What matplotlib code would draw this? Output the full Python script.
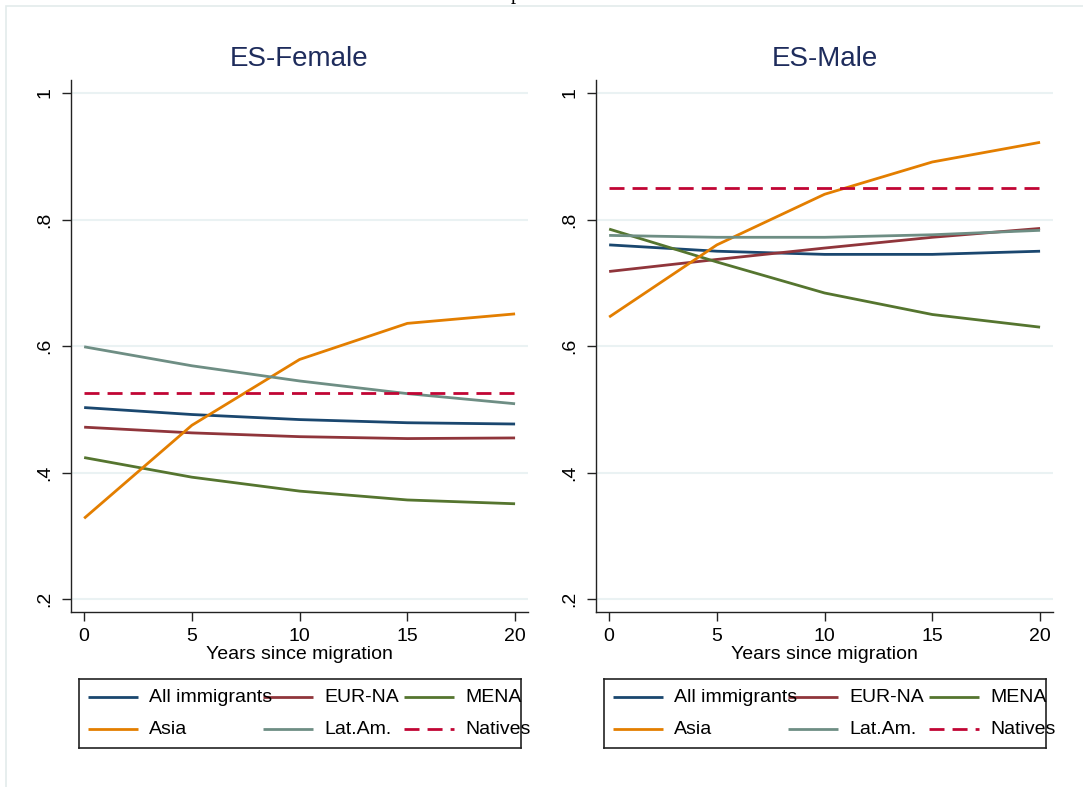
import matplotlib
matplotlib.use("Agg")
import matplotlib.pyplot as plt
from matplotlib.patches import Rectangle

plt.rcParams['font.family'] = ['Liberation Sans', 'DejaVu Sans']

W, H = 1083, 787

years = [0, 5, 10, 15, 20]

# ES-Female
all_f = [0.503, 0.492, 0.484, 0.479, 0.477]
eur_f = [0.472, 0.463, 0.457, 0.454, 0.455]
mena_f = [0.424, 0.393, 0.371, 0.357, 0.351]
asia_f = [0.328, 0.475, 0.579, 0.636, 0.651]
lat_f = [0.599, 0.569, 0.545, 0.525, 0.509]
nat_f = [0.526, 0.526, 0.526, 0.526, 0.526]

# ES-Male
all_m = [0.760, 0.750, 0.745, 0.745, 0.750]
eur_m = [0.718, 0.737, 0.755, 0.772, 0.786]
mena_m = [0.785, 0.733, 0.684, 0.650, 0.630]
asia_m = [0.646, 0.760, 0.840, 0.891, 0.922]
lat_m = [0.775, 0.772, 0.772, 0.776, 0.783]
nat_m = [0.850, 0.850, 0.850, 0.850, 0.850]

labels = ['All immigrants', 'EUR-NA', 'MENA', 'Asia', 'Lat.Am.', 'Natives']
colors = ['#1a476f', '#90353b', '#55752f', '#e37e00', '#6e8e84', '#c10534']
ytick_vals = [0.2, 0.4, 0.6, 0.8, 1.0]
ytick_labels = ['.2', '.4', '.6', '.8', '1']
xtick_vals = [0, 5, 10, 15, 20]

panels = [
    ('ES-Female', [all_f, eur_f, mena_f, asia_f, lat_f, nat_f], 71, 79),
    ('ES-Male', [all_m, eur_m, mena_m, asia_m, lat_m, nat_m], 596, 604),
]

dash = (0, (5.4, 2.9))

fig = plt.figure(figsize=(W / 100, H / 100), dpi=100)

# light outer frame of the graph region
fig.add_artist(Rectangle((6 / W, -0.02), 1.0, 1 - 6 / H + 0.02,
                         transform=fig.transFigure, fill=False,
                         ec='#e3ebeb', lw=1.2))
fig.text(516 / W, 1 + 1.5 / H, 'p', family='Liberation Serif', fontsize=15,
         ha='center', va='baseline')

for title, series, x0, lgx in panels:
    ax = fig.add_axes([x0 / W, 1 - 612 / H, 457 / W, 532 / H])
    for vals, lab, col in zip(series, labels, colors):
        ls = dash if lab == 'Natives' else '-'
        ax.plot(years, vals, color=col, lw=2, ls=ls, label=lab,
                solid_capstyle='butt', dash_capstyle='butt')
    ax.set_xlim(-0.61, 20.6)
    ax.set_ylim(0.18, 1.0205)
    ax.set_xticks(xtick_vals)
    ax.set_yticks(ytick_vals)
    ax.set_yticklabels(ytick_labels)
    ax.yaxis.grid(True, color='#eaf2f3', lw=1.5)
    ax.set_axisbelow(True)
    for s in ['top', 'right']:
        ax.spines[s].set_visible(False)
    for s in ['left', 'bottom']:
        ax.spines[s].set_color('#222222')
        ax.spines[s].set_linewidth(1.0)
    ax.tick_params(axis='both', labelsize=14, length=6.5, width=1.0,
                   color='#222222')
    ax.tick_params(axis='x', pad=5)
    ax.tick_params(axis='y', pad=6, labelrotation=90)
    for t in ax.get_yticklabels():
        t.set_va('center')
    ax.set_xlabel('Years since migration', fontsize=14, labelpad=1)
    ax.set_title(title, fontsize=20, color='#1e2c5c', pad=10)

    # legend box below each panel
    lg = fig.add_axes([lgx / W, 1 - 748 / H, 442 / W, 69 / H])
    lg.set_xlim(0, 442)
    lg.set_ylim(69, 0)
    lg.set_xticks([])
    lg.set_yticks([])
    for s in lg.spines.values():
        s.set_color('#222222')
        s.set_linewidth(1.2)
    key_x = [9, 184, 325]
    for k, (lab, col) in enumerate(zip(labels, colors)):
        row, c = divmod(k, 3)
        ky = 18 if row == 0 else 50
        kx = key_x[c]
        ls = dash if lab == 'Natives' else '-'
        lg.plot([kx, kx + 50], [ky, ky], color=col, lw=2, ls=ls,
                solid_capstyle='butt', dash_capstyle='butt', clip_on=False)
        lg.text(kx + 61, ky + 1, lab, fontsize=14, va='center', ha='left',
                clip_on=False)

fig.savefig('out.png', dpi=100)
